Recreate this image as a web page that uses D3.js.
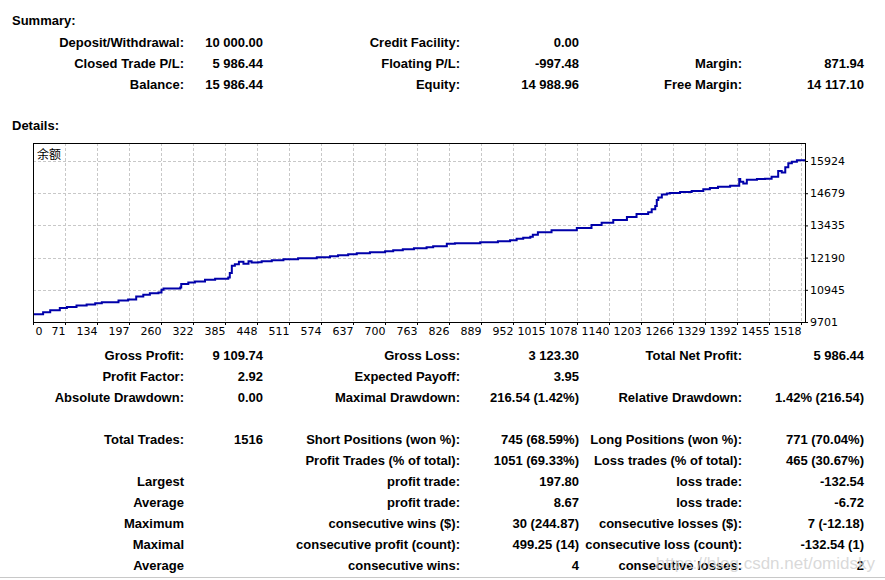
<!DOCTYPE html>
<html>
<head>
<meta charset="utf-8">
<script src="https://cdn.jsdelivr.net/npm/d3@7"></script>
<style>
  body { margin: 0; background: #fff; }
  svg { display: block; }
  .tbl text { font-family: "Liberation Sans", Arial, sans-serif; font-size: 13px; font-weight: bold; fill: #000; }
  .axis text { font-family: "DejaVu Sans", Tahoma, sans-serif; font-size: 11px; fill: #000; }
</style>
</head>
<body>
<svg id="report"></svg>
<script>
// ---------- report text ----------
let summaryRows = [
  ['Deposit/Withdrawal:', '10 000.00', 'Credit Facility:', '0.00', '', ''],
  ['Closed Trade P/L:', '5 986.44', 'Floating P/L:', '-997.48', 'Margin:', '871.94'],
  ['Balance:', '15 986.44', 'Equity:', '14 988.96', 'Free Margin:', '14 117.10']
];

let detailRows = [
  ['Gross Profit:', '9 109.74', 'Gross Loss:', '3 123.30', 'Total Net Profit:', '5 986.44'],
  ['Profit Factor:', '2.92', 'Expected Payoff:', '3.95', '', ''],
  ['Absolute Drawdown:', '0.00', 'Maximal Drawdown:', '216.54 (1.42%)', 'Relative Drawdown:', '1.42% (216.54)']
];

let tradeRows = [
  ['Total Trades:', '1516', 'Short Positions (won %):', '745 (68.59%)', 'Long Positions (won %):', '771 (70.04%)'],
  ['', '', 'Profit Trades (% of total):', '1051 (69.33%)', 'Loss trades (% of total):', '465 (30.67%)'],
  ['Largest', '', 'profit trade:', '197.80', 'loss trade:', '-132.54'],
  ['Average', '', 'profit trade:', '8.67', 'loss trade:', '-6.72'],
  ['Maximum', '', 'consecutive wins ($):', '30 (244.87)', 'consecutive losses ($):', '7 (-12.18)'],
  ['Maximal', '', 'consecutive profit (count):', '499.25 (14)', 'consecutive loss (count):', '-132.54 (1)'],
  ['Average', '', 'consecutive wins:', '4', 'consecutive losses:', '2']
];

// ---------- balance graph ----------
let xTickLabels = ['0', '71', '134', '197', '260', '322', '385', '448', '511', '574', '637', '700',
  '763', '826', '889', '952', '1015', '1078', '1140', '1203', '1266', '1329', '1392', '1455', '1518'];
let yTickValues = [9701, 10945, 12190, 13435, 14679, 15924];

let tradeIdx = [0, 20, 34, 53, 67, 86, 106, 123, 136, 169, 188, 204, 218, 231, 248, 254, 258, 291, 293, 307,
  320, 340, 360, 386, 389, 393, 399, 407, 416, 426, 432, 445, 452, 472, 495, 524, 561, 587, 603, 623,
  640, 666, 696, 712, 731, 753, 778, 791, 818, 834, 884, 919, 943, 956, 969, 983, 988, 998, 1025, 1075,
  1104, 1124, 1147, 1174, 1193, 1216, 1223, 1230, 1233, 1236, 1243, 1253, 1259, 1279, 1302, 1325, 1338, 1354, 1378, 1396,
  1398, 1404, 1411, 1431, 1447, 1460, 1473, 1480, 1487, 1493, 1500, 1510, 1526];
let balance = [10000, 10078, 10156, 10245, 10284, 10335, 10374, 10428, 10467, 10529, 10568, 10685, 10751, 10817, 10841, 10946, 10996, 11035, 11167, 11229,
  11268, 11334, 11373, 11424, 11595, 11879, 11930, 12034, 11957, 12046, 11996, 12007, 12046, 12085, 12124, 12163, 12202, 12241, 12280, 12318,
  12357, 12396, 12435, 12474, 12513, 12552, 12591, 12630, 12723, 12746, 12785, 12824, 12863, 12917, 12956, 12995, 13073, 13174, 13252, 13330,
  13446, 13540, 13641, 13758, 13874, 13940, 14057, 14185, 14419, 14512, 14629, 14668, 14691, 14730, 14769, 14835, 14885, 14924, 14963, 15224,
  15119, 15056, 15196, 15224, 15235, 15313, 15535, 15484, 15679, 15834, 15897, 15951, 15986];

let W = 885, H = 580;
let svg = d3.select('#report').attr('width', W).attr('height', H);

// plot frame
let pLeft = 33, pRight = 805, pTop = 143, pBottom = 322;

// column right edges of the table
let colRight = [184, 263, 460, 579, 742, 864];

function drawRows(rows, y0, step) {
  let g = svg.append('g').attr('class', 'tbl');
  rows.forEach((row, i) => {
    row.forEach((cell, j) => {
      if (cell === '') return;
      g.append('text')
        .attr('x', colRight[j])
        .attr('y', y0 + i * step)
        .attr('text-anchor', 'end')
        .text(cell);
    });
  });
}

let head = svg.append('g').attr('class', 'tbl');
head.append('text').attr('x', 12).attr('y', 25).text('Summary:');
head.append('text').attr('x', 12).attr('y', 130).text('Details:');

drawRows(summaryRows, 46.5, 21);
drawRows(detailRows, 360, 21);
drawRows(tradeRows, 444, 21);

// scales
let xLine = d3.scaleLinear().domain([0, 1526]).range([pLeft, pRight]);
let xTick = d3.scalePoint().domain(xTickLabels).range([pLeft, 801]);
let yScale = d3.scaleLinear().domain([9701, 15924]).range([pBottom, 161]);

// grid
let grid = svg.append('g')
  .attr('stroke', '#c8c8c8')
  .attr('stroke-width', 1)
  .attr('stroke-dasharray', '3,2');

grid.selectAll('line.v')
  .data(xTickLabels.slice(1))
  .enter()
  .append('line')
  .attr('x1', d => Math.round(xTick(d)) + 0.5)
  .attr('x2', d => Math.round(xTick(d)) + 0.5)
  .attr('y1', pTop)
  .attr('y2', pBottom);

grid.selectAll('line.h')
  .data(yTickValues.slice(1))
  .enter()
  .append('line')
  .attr('x1', pLeft)
  .attr('x2', pRight)
  .attr('y1', d => Math.round(yScale(d)) + 0.5)
  .attr('y2', d => Math.round(yScale(d)) + 0.5);

// axes
let xAxis = d3.axisBottom(xTick).tickSize(3).tickPadding(2);
let xAxisGroup = svg.append('g')
  .attr('class', 'axis')
  .attr('transform', `translate(0, ${pBottom})`)
  .call(xAxis);
xAxisGroup.select('.domain').remove();
// labels sit to the left of their tick, except the first one
xAxisGroup.selectAll('.tick text')
  .attr('text-anchor', (d, i) => i === 0 ? 'start' : 'end')
  .attr('x', (d, i) => i === 0 ? 2 : 0);

let yAxis = d3.axisRight(yScale).tickValues(yTickValues).tickSize(3).tickPadding(2).tickFormat(d3.format('d'));
let yAxisGroup = svg.append('g')
  .attr('class', 'axis')
  .attr('transform', `translate(${pRight}, 0)`)
  .call(yAxis);
yAxisGroup.select('.domain').remove();

// balance line
svg.append('clipPath').attr('id', 'plotClip')
  .append('rect').attr('x', pLeft).attr('y', pTop).attr('width', pRight - pLeft).attr('height', pBottom - pTop);

let line = d3.line()
  .x((d, i) => xLine(tradeIdx[i]))
  .y(d => yScale(d))
  .curve(d3.curveStepAfter);

svg.append('path')
  .datum(balance)
  .attr('clip-path', 'url(#plotClip)')
  .attr('fill', 'none')
  .attr('stroke', '#0000aa')
  .attr('stroke-width', 2)
  .attr('d', line);

// frame
svg.append('rect')
  .attr('x', pLeft + 0.5).attr('y', pTop + 0.5)
  .attr('width', pRight - pLeft).attr('height', pBottom - pTop)
  .attr('fill', 'none').attr('stroke', '#000').attr('stroke-width', 1);

svg.append('text')
  .attr('x', 37).attr('y', 159)
  .attr('font-family', '"Noto Sans CJK SC", sans-serif')
  .attr('font-size', 12)
  .text('余额');

// page bottom rule and watermark
svg.append('line')
  .attr('x1', 0).attr('x2', W).attr('y1', 577.5).attr('y2', 577.5)
  .attr('stroke', '#c8c8c8');

svg.append('text')
  .attr('x', 875).attr('y', 569)
  .attr('text-anchor', 'end')
  .attr('font-family', '"Liberation Sans", Arial, sans-serif')
  .attr('font-size', 17)
  .attr('fill', '#cfcfcf')
  .attr('fill-opacity', 0.8)
  .text('https://blog.csdn.net/omidsky');
</script>
</body>
</html>
